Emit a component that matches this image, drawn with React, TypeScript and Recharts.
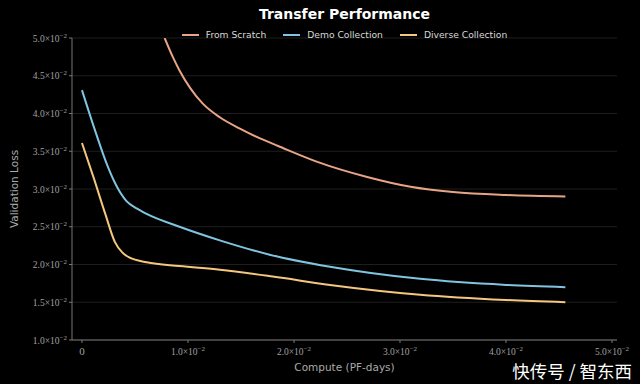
import React from 'react';
import { LineChart, Line, XAxis, YAxis, CartesianGrid } from 'recharts';

const scratchX = [0.0078, 0.0086, 0.0092, 0.0102, 0.0114, 0.013, 0.0149, 0.0168, 0.0185, 0.0222, 0.0269, 0.031, 0.035, 0.04, 0.0456];
const scratchY = [0.05, 0.0474, 0.0457, 0.0434, 0.0413, 0.0395, 0.038, 0.0367, 0.0357, 0.0336, 0.0316, 0.0303, 0.0296, 0.0292, 0.029];

const demoX = [0, 0.0012, 0.0024, 0.0033, 0.0042, 0.0052, 0.0061, 0.0092, 0.013, 0.0177, 0.0234, 0.0319, 0.04, 0.0456];
const demoY = [0.0431, 0.0379, 0.0331, 0.0303, 0.0284, 0.0274, 0.0267, 0.025, 0.0232, 0.0213, 0.0197, 0.0181, 0.0173, 0.017];

const diverseX = [0, 0.0011, 0.0022, 0.0031, 0.0038, 0.0045, 0.0061, 0.0092, 0.013, 0.018, 0.0234, 0.0319, 0.04, 0.0456];
const diverseY = [0.0361, 0.0315, 0.0267, 0.023, 0.0216, 0.0209, 0.0203, 0.0198, 0.0193, 0.0184, 0.0173, 0.016, 0.0153, 0.015];

const xTicks = [0, 0.01, 0.02, 0.03, 0.04, 0.05];
const yTicks = [0.01, 0.015, 0.02, 0.025, 0.03, 0.035, 0.04, 0.045, 0.05];

const series = [
  { name: 'From Scratch', xs: scratchX, ys: scratchY, color: '#e8a486' },
  { name: 'Demo Collection', xs: demoX, ys: demoY, color: '#80c4e0' },
  { name: 'Diverse Collection', xs: diverseX, ys: diverseY, color: '#f4c77e' },
];

const toPoints = (xs: number[], ys: number[]) => xs.map((x, i) => ({ x, y: ys[i] }));

const serif = "'Liberation Serif', 'Times New Roman', serif";
const sans = "'DejaVu Sans', sans-serif";

const SciTick = (props: any) => {
  const { x, y, payload, axis } = props;
  const v = payload.value;
  const mant = (v * 100).toFixed(1);
  const body = (
    <>
      {mant}×10<tspan dy={-4} fontSize={7}>−2</tspan>
    </>
  );
  if (axis === 'y') {
    return (
      <text x={x} y={y} dy={3.5} textAnchor="end" fill="#a0a0a0" fontSize={9.5} fontFamily={serif}>
        {body}
      </text>
    );
  }
  return (
    <text x={x} y={y} dy={10} textAnchor="middle" fill="#a0a0a0" fontSize={v === 0 ? 11 : 9.5} fontFamily={serif}>
      {v === 0 ? '0' : body}
    </text>
  );
};

export default function App() {
  return (
    <div style={{ position: 'fixed', left: 0, top: 0, width: 640, height: 384, background: '#000', overflow: 'hidden' }}>
      <div style={{ position: 'absolute', left: 72, width: 545, top: 6, textAlign: 'center', color: '#fff', fontFamily: sans, fontWeight: 'bold', fontSize: 14 }}>
        Transfer Performance
      </div>
      <div style={{ position: 'absolute', left: 72, width: 545, top: 29, display: 'flex', justifyContent: 'center', gap: 17, fontFamily: sans, fontSize: 9.2, color: '#d8d8d8', zIndex: 2 }}>
        {series.map((s) => (
          <div key={s.name} style={{ display: 'flex', alignItems: 'center' }}>
            <span style={{ display: 'inline-block', width: 17, height: 2, background: s.color, marginRight: 7 }} />
            {s.name}
          </div>
        ))}
      </div>
      <LineChart width={640} height={384} margin={{ top: 38, right: 23, bottom: 14, left: 8 }}>
        <CartesianGrid horizontal vertical={false} stroke="#262626" strokeWidth={0.8} />
        <XAxis
          type="number"
          dataKey="x"
          domain={[-0.00094, 0.05047]}
          ticks={xTicks}
          allowDataOverflow
          stroke="#777"
          tickSize={3}
          height={30}
          tick={<SciTick axis="x" />}
          label={{ value: 'Compute (PF-days)', position: 'insideBottom', offset: -1, fill: '#aaa', fontSize: 10.5, fontFamily: sans }}
        />
        <YAxis
          type="number"
          dataKey="y"
          domain={[0.01, 0.05]}
          ticks={yTicks}
          allowDataOverflow
          stroke="#777"
          tickSize={3}
          width={64}
          tick={<SciTick axis="y" />}
          label={{ value: 'Validation Loss', angle: -90, position: 'insideLeft', offset: 6, fill: '#aaa', fontSize: 10.5, fontFamily: sans, style: { textAnchor: 'middle' } }}
        />
        {series.map((s) => (
          <Line
            key={s.name}
            name={s.name}
            data={toPoints(s.xs, s.ys)}
            dataKey="y"
            type="monotone"
            stroke={s.color}
            strokeWidth={2}
            dot={false}
            isAnimationActive={false}
          />
        ))}
      </LineChart>
      <div style={{ position: 'absolute', right: 8, top: 362, lineHeight: 1, color: '#fff', fontFamily: "'Noto Sans CJK SC', sans-serif", fontSize: 17.5 }}>
        快传号 / 智东西
      </div>
    </div>
  );
}
